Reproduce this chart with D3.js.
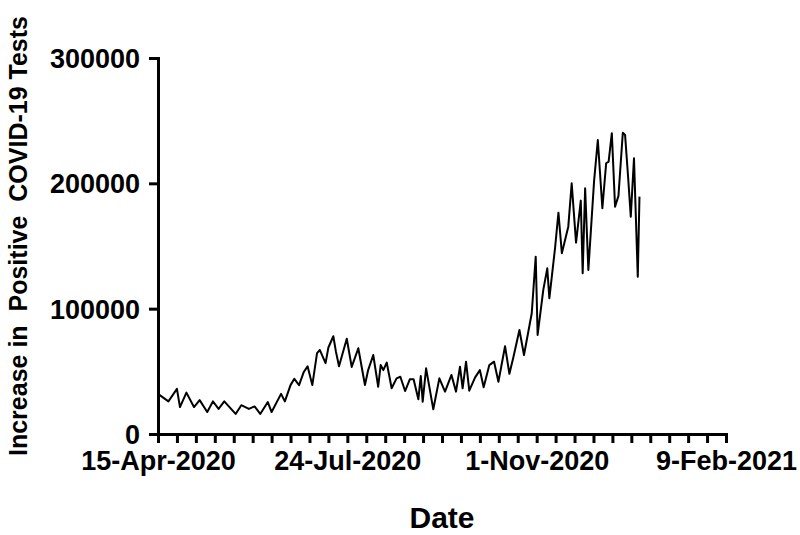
<!DOCTYPE html>
<html>
<head>
<meta charset="utf-8">
<script src="https://cdn.jsdelivr.net/npm/d3@7"></script>
<style>
body { margin: 0; background: #fff; }
text { font-family: "Liberation Sans", Arial, sans-serif; font-weight: bold; }
</style>
</head>
<body>
<div id="chart"></div>
<script>
// days after 15-Apr-2020 and daily increase
var days = [0, 5.5, 10, 11.6, 15, 19, 22, 26, 29, 32, 35, 41, 44, 48, 51, 54, 58, 60, 65, 67, 70, 72, 74.5, 77, 79, 81.5, 84, 85.5, 88.5, 90, 92.6, 94, 95.6, 99.7, 102.3,
	105.8, 109.3, 111, 113.7, 116.3, 117.6, 119, 120.8, 123.4, 126, 128, 130.5, 133, 135, 137.5, 138.8, 139.8, 141.6, 145.4, 148.6, 151.6, 155, 157.4, 159.5, 160.9, 162.7, 164.4, 167.5, 170, 172, 175, 177.5, 179.8,
	183.3, 185.6, 187.7, 190.9, 193.3, 197.4, 199.5, 200.5, 203.5, 205.6, 206.7, 209.7, 211.5, 213.3, 216.7, 218.5, 220.8, 223.3, 224.3, 225.6, 227.3, 230.3, 232.3, 234.7, 236.7, 238, 239.7, 241.4, 243.2, 245.5, 246.7, 248.4, 249.7, 251.4, 253.4, 254.3];
var values = [32000, 26000, 36000, 21500, 33000, 21500, 27000, 17500, 26000, 20000, 26000, 16000, 23000, 20000, 22000, 16000, 25500, 17500, 32000, 26000, 39000, 44000, 39000, 49500, 54000, 39000, 64500, 67000, 56500, 69000, 78000, 65500, 54000, 76000, 53500,
	68400, 39100, 51000, 63000, 37700, 55000, 51000, 57000, 36500, 44400, 45700, 34300, 43600, 43600, 27700, 46300, 25800, 52400, 19700, 44400, 33800, 47100, 33800, 53700, 36500, 57700, 34600, 45200, 51000, 37300, 55000, 57700, 41700,
	70000, 48000, 61200, 83000, 63000, 96300, 141500, 79000, 115000, 132200, 108300, 148200, 176600, 144200, 165400, 200000, 152700, 186200, 128200, 196000, 130900, 201300, 234600, 180100, 216000, 217300, 240000, 181400, 190000, 240400, 238600, 202700, 173400, 220000, 125500, 189400];

var xTickLabels = ["15-Apr-2020", "24-Jul-2020", "1-Nov-2020", "9-Feb-2021"];
var yTicks = [0, 100000, 200000, 300000];

var width = 800, height = 535;
var margin = { left: 158, right: 74, top: 58, bottom: 101 };

var svg = d3.select("#chart").append("svg")
	.attr("width", width)
	.attr("height", height);

var x = d3.scaleLinear().domain([0, 300]).range([margin.left, width - margin.right]);
var y = d3.scaleLinear().domain([0, 300000]).range([height - margin.bottom, margin.top]);

// line
var line = d3.line()
	.x(function(d, i) { return x(days[i]); })
	.y(function(d) { return y(d); });

svg.append("path")
	.datum(values)
	.attr("d", line)
	.attr("fill", "none")
	.attr("stroke", "#000")
	.attr("stroke-width", 2)
	.attr("stroke-linejoin", "round");

// x axis, minor ticks every 10 days
var xAxis = svg.append("g")
	.attr("transform", "translate(0," + y(0) + ")")
	.call(d3.axisBottom(x).tickValues(d3.range(0, 301, 10)).tickSize(9)
		.tickFormat(function(d) { return d % 100 === 0 ? xTickLabels[d / 100] : ""; }));
xAxis.selectAll("text").attr("font-size", 27).attr("fill", "#000").attr("y", 12).attr("dy", "0.9em");

// y axis
var yAxis = svg.append("g")
	.attr("transform", "translate(" + x(0) + ",0)")
	.call(d3.axisLeft(y).tickValues(yTicks).tickSize(9).tickFormat(d3.format("d")));
yAxis.selectAll("text").attr("font-size", 27).attr("fill", "#000").attr("dy", "0.35em").attr("x", -18);

svg.selectAll(".domain, .tick line").attr("stroke", "#000").attr("stroke-width", 3);

svg.append("text")
	.attr("x", x(150)).attr("y", 528)
	.attr("text-anchor", "middle")
	.attr("font-size", 30)
	.text("Date");

svg.append("text")
	.attr("transform", "translate(27," + 236 + ") rotate(-90)")
	.attr("text-anchor", "middle")
	.attr("font-size", 25)
	.attr("xml:space", "preserve")
	.style("white-space", "pre")
	.text("Increase in  Positive  COVID-19 Tests");
</script>
</body>
</html>
